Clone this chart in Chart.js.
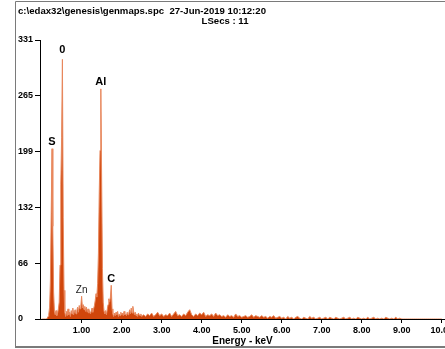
<!DOCTYPE html>
<html><head><meta charset="utf-8">
<script src="https://cdn.jsdelivr.net/npm/chart.js@4.4.1/dist/chart.umd.min.js"></script>
<style>html,body{margin:0;padding:0;background:#fff;overflow:hidden}canvas{display:block}</style>
</head><body>
<canvas id="c" width="445" height="349"></canvas>
<script>
// ---- chart data ----
const headerText = 'c:\\edax32\\genesis\\genmaps.spc  27-Jun-2019 10:12:20';
const liveTimeText = 'LSecs : 11';
const xAxisTitle = 'Energy - keV';

// channel counts, 0.00 - 2.50 keV every 0.02 keV
const lowStartKeV = 0.00;
const lowStepKeV = 0.02;
const lowCounts = [
  0,0,0,0,0,0,0,1,3,6,
  14,45,125,202,110,32,9,5,10,4,
  7,12,20,64,160,215,308,120,34,8,
  3,9,4,12,5,8,3,10,6,13,
  5,9,11,6,10,14,8,16,12,15,
  27,13,17,11,15,9,14,8,12,7,
  10,6,9,13,8,12,16,22,30,26,
  42,78,149,200,273,168,60,20,9,6,
  10,5,11,17,24,20,26,40,12,6,
  3,7,4,8,5,9,3,6,4,8,
  5,7,4,9,5,6,4,8,5,7,
  11,6,13,7,15,9,5,8,4,6,
  3,7,5,4,6,3
];
// channel counts, 2.55 - 10.00 keV every 0.05 keV
const highStartKeV = 2.55;
const highStepKeV = 0.05;
const highCounts = [
  5,3,6,4,7,3,5,8,4,6,
  3,5,4,7,3,6,9,4,5,3,
  6,4,8,11,5,3,6,4,7,5,
  8,3,5,4,6,3,7,4,5,3,
  4,2,5,3,4,2,6,3,4,2,
  3,4,2,3,5,2,4,3,2,4,
  2,3,1,3,2,4,1,2,3,1,
  2,0,3,1,2,0,2,3,1,0,
  2,1,0,3,1,2,0,1,2,0,
  1,2,0,2,1,0,2,1,0,1,
  2,0,1,2,0,1,0,2,1,0,
  1,0,2,0,1,2,0,1,0,1,
  0,2,1,0,1,0,2,0,1,0,
  0,0,0,0,0,0,0,0,0,0,
  0,0,0,0,0,0,0,0,0,0
];
const xTickValues = [1,2,3,4,5,6,7,8,9,10];
const yTickValues = [0,66,132,199,265,331];
const peakLabels   = ['S', '0', 'Al', 'Zn', 'C'];
const peakEnergies = [0.26, 0.52, 1.48, 1.00, 1.74];
const peakCounts   = [202, 308, 273, 27, 40];

// ---- build points ----
const points = [];
lowCounts.forEach((v,i)=>points.push({x: +(lowStartKeV + i*lowStepKeV).toFixed(3), y: v}));
highCounts.forEach((v,i)=>points.push({x: +(highStartKeV + i*highStepKeV).toFixed(3), y: v}));

const FONT = '"Liberation Sans", Arial, sans-serif';

const decor = {
  id: 'decor',
  beforeDraw(chart) {
    const ctx = chart.ctx;
    ctx.save();
    ctx.fillStyle = '#fff';
    ctx.fillRect(0,0,chart.width,chart.height);
    ctx.strokeStyle = '#7a7a7a';
    ctx.lineWidth = 1;
    ctx.beginPath();
    ctx.moveTo(15.5, 347); ctx.lineTo(15.5, 1.5); ctx.lineTo(445, 1.5);
    ctx.stroke();
    ctx.lineWidth = 2;
    ctx.beginPath();
    ctx.moveTo(15, 347); ctx.lineTo(445, 347);
    ctx.stroke();
    ctx.restore();
  },
  afterDraw(chart) {
    const ctx = chart.ctx;
    const xs = chart.scales.x, ys = chart.scales.y;
    ctx.save();
    ctx.fillStyle = '#000';
    ctx.textBaseline = 'middle';
    ctx.font = 'bold 9.6px ' + FONT;
    ctx.textAlign = 'left';
    ctx.fillText(headerText, 18, 11);
    ctx.textAlign = 'center';
    ctx.fillText(liveTimeText, 225, 21);
    peakLabels.forEach((t,i)=>{
      const px = xs.getPixelForValue(peakEnergies[i]);
      const py = ys.getPixelForValue(peakCounts[i]);
      ctx.textBaseline = 'bottom';
      if (t === 'Zn') { ctx.font = '10px ' + FONT; ctx.fillStyle = '#222'; }
      else { ctx.font = 'bold 11px ' + FONT; ctx.fillStyle = '#000'; }
      ctx.fillText(t, px, py - (t === '0' ? 4 : 1));
    });
    ctx.restore();
  }
};

new Chart(document.getElementById('c'), {
  type: 'line',
  data: { datasets: [{
    data: points,
    borderColor: '#e8875c',
    borderWidth: 1,
    backgroundColor: '#d0460c',
    fill: 'origin',
    pointRadius: 0,
    tension: 0
  }]},
  options: {
    responsive: false,
    animation: false,
    devicePixelRatio: 1,
    layout: { padding: { top: 40, left: 18, right: 0, bottom: 0 } },
    plugins: { legend: { display: false }, tooltip: { enabled: false } },
    scales: {
      x: {
        type: 'linear', min: -0.04, max: 10.08,
        afterBuildTicks: s => { s.ticks = xTickValues.map(v=>({value:v})); },
        afterFit: s => { s.height = 30; s.paddingLeft = 0; s.paddingRight = 0; },
        ticks: { color: '#000', font: { family: FONT, size: 9, weight: 'bold' }, padding: 2, maxRotation: 0, autoSkip: false,
                 callback: v => Number(v).toFixed(2) },
        grid: { drawOnChartArea: false, drawTicks: true, tickLength: 4, color: '#000' },
        border: { display: true, color: '#000', width: 1 },
        title: { display: true, text: xAxisTitle, color: '#000', font: { family: FONT, size: 10, weight: 'bold' }, padding: { top: 0, bottom: 2 } }
      },
      y: {
        min: 0, max: 331,
        afterBuildTicks: s => { s.ticks = yTickValues.map(v=>({value:v})); },
        afterFit: s => { s.width = 22; s.paddingTop = 0; s.paddingBottom = 0; },
        ticks: { color: '#000', font: { family: FONT, size: 9, weight: 'bold' }, crossAlign: 'far', autoSkip: false,
                 callback: v => String(v) },
        grid: { drawOnChartArea: false, drawTicks: true, tickLength: 5, color: '#000' },
        border: { display: true, color: '#000', width: 1 }
      }
    }
  },
  plugins: [decor]
});
</script>
</body></html>
